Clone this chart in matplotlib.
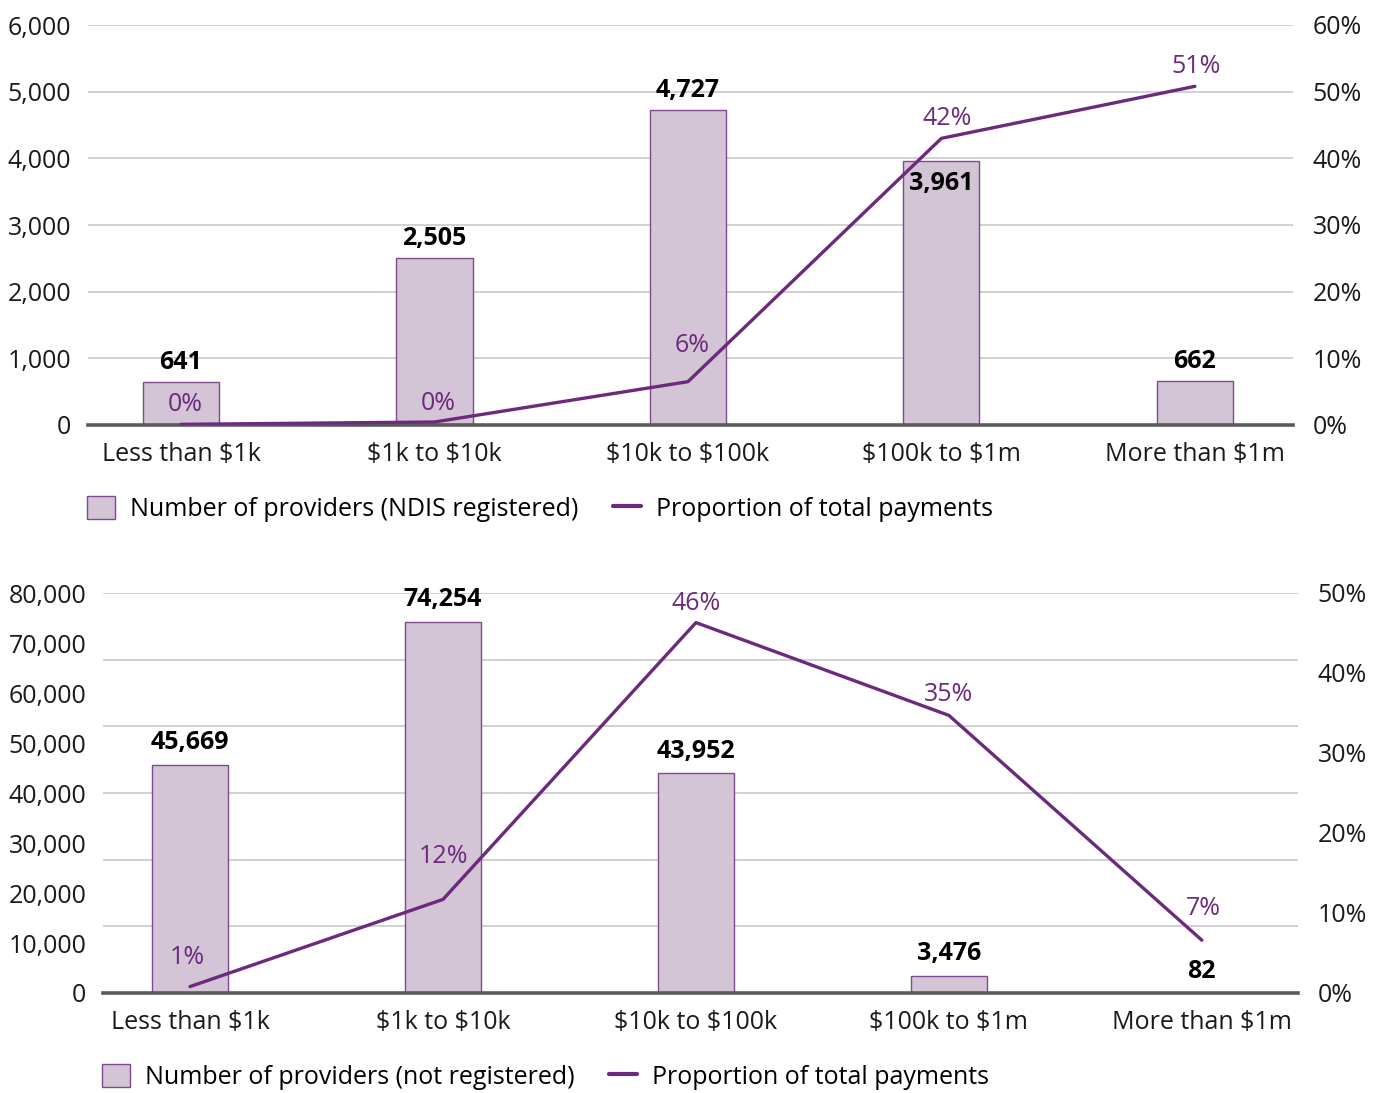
import numpy as np
import matplotlib
matplotlib.use('Agg')
import matplotlib.pyplot as plt
from matplotlib.ticker import FuncFormatter

plt.rcParams['font.family'] = ['Open Sans', 'DejaVu Sans']
plt.rcParams['text.parse_math'] = False

categories = ["Less than $1k", "$1k to $10k", "$10k to $100k", "$100k to $1m", "More than $1m"]

reg_providers = [641, 2505, 4727, 3961, 662]
reg_share = [0.1, 0.45, 6.5, 43.0, 50.8]
reg_share_labels = ["0%", "0%", "6%", "42%", "51%"]

unreg_providers = [45669, 74254, 43952, 3476, 82]
unreg_share = [0.8, 11.7, 46.3, 34.7, 6.6]
unreg_share_labels = ["1%", "12%", "46%", "35%", "7%"]

BAR_FILL = "#d3c4d6"
BAR_EDGE = "#7e4a8e"
PURPLE = "#6b2a7b"
GRID = "#c9c9c9"
FS = 18


def panel(rect, counts, share, share_labels, ymax, ystep, grid_y, pmax, xlim,
          count_offsets, share_offsets, legend_name):
    fig = plt.gcf()
    ax = fig.add_axes(rect)
    x = np.arange(len(categories))

    for gy in grid_y:
        ax.axhline(gy, color=GRID, lw=1.2, zorder=0)
    ax.bar(x, counts, width=0.3, color=BAR_FILL, edgecolor=BAR_EDGE, linewidth=1.0,
           zorder=2, label=legend_name)
    ax.set_ylim(0, ymax)
    ax.set_xlim(*xlim)
    ax.set_yticks(np.arange(0, ymax + 1, ystep))
    ax.yaxis.set_major_formatter(FuncFormatter(lambda v, p: f"{int(v):,}"))
    ax.set_xticks(x)
    ax.set_xticklabels(categories)
    ax.tick_params(axis='both', length=0, labelsize=FS, colors="#1a1a1a")
    ax.tick_params(axis='y', pad=12)
    ax.tick_params(axis='x', pad=12)
    for s in ['top', 'left', 'right']:
        ax.spines[s].set_visible(False)
    ax.spines['bottom'].set_color("#5a5a5a")
    ax.spines['bottom'].set_linewidth(2.6)
    ax.spines['bottom'].set_zorder(3)

    for xi, c, off in zip(x, counts, count_offsets):
        ax.annotate(f"{c:,}", (xi, c), xytext=(0, off), textcoords='offset points',
                    ha='center', va='center', fontsize=FS, fontweight='bold', color='black')

    ax2 = ax.twinx()
    ax2.plot(x, share, color=PURPLE, lw=2.4, solid_capstyle='round',
             label="Proportion of total payments")
    ax2.set_ylim(0, pmax)
    ax2.set_yticks(np.arange(0, pmax + 1, 10))
    ax2.yaxis.set_major_formatter(FuncFormatter(lambda v, p: f"{int(v)}%"))
    ax2.tick_params(axis='y', length=0, labelsize=FS, colors="#1a1a1a", pad=14)
    for s in ax2.spines.values():
        s.set_visible(False)
    for xi, v, lab, off in zip(x, share, share_labels, share_offsets):
        ax2.annotate(lab, (xi, v), xytext=(off[0], off[1]), textcoords='offset points',
                     ha='center', va='center', fontsize=FS, color=PURPLE)
    return ax, ax2


fig = plt.figure(figsize=(13.83, 10.93), dpi=100)

ax, ax2 = panel([88 / 1383, 1 - 425 / 1093, 1205 / 1383, 400 / 1093],
                reg_providers, reg_share, reg_share_labels,
                6000, 1000, np.arange(1000, 6001, 1000), 60, (-0.367, 4.387),
                [14, 14, 14, -16, 14],
                [(3, 14), (3, 13), (3, 26), (4, 14), (1, 14)],
                "Number of providers (NDIS registered)")
h1, l1 = ax.get_legend_handles_labels()
h2, l2 = ax2.get_legend_handles_labels()
leg = ax.legend(h1 + h2, l1 + l2, ncol=2, frameon=False, fontsize=FS, loc='center left',
                bbox_to_anchor=(-0.009, -0.21), handlelength=1.1, handleheight=1.05,
                handletextpad=0.6, columnspacing=1.4, borderaxespad=0)
leg.get_lines()[0].set_linewidth(3)

bx, bx2 = panel([103 / 1383, 1 - 993 / 1093, 1195 / 1383, 400 / 1093],
                unreg_providers, unreg_share, unreg_share_labels,
                80000, 10000, np.linspace(0, 80000, 7)[1:], 50, (-0.344, 4.38),
                [16, 16, 16, 16, 15],
                [(-2, 21), (0, 31), (0, 14), (0, 15), (1, 23)],
                "Number of providers (not registered)")
h1, l1 = bx.get_legend_handles_labels()
h2, l2 = bx2.get_legend_handles_labels()
leg = bx.legend(h1 + h2, l1 + l2, ncol=2, frameon=False, fontsize=FS, loc='center left',
                bbox_to_anchor=(-0.009, -0.21), handlelength=1.1, handleheight=1.05,
                handletextpad=0.6, columnspacing=1.4, borderaxespad=0)
leg.get_lines()[0].set_linewidth(3)

fig.savefig("out.png", dpi=100)
